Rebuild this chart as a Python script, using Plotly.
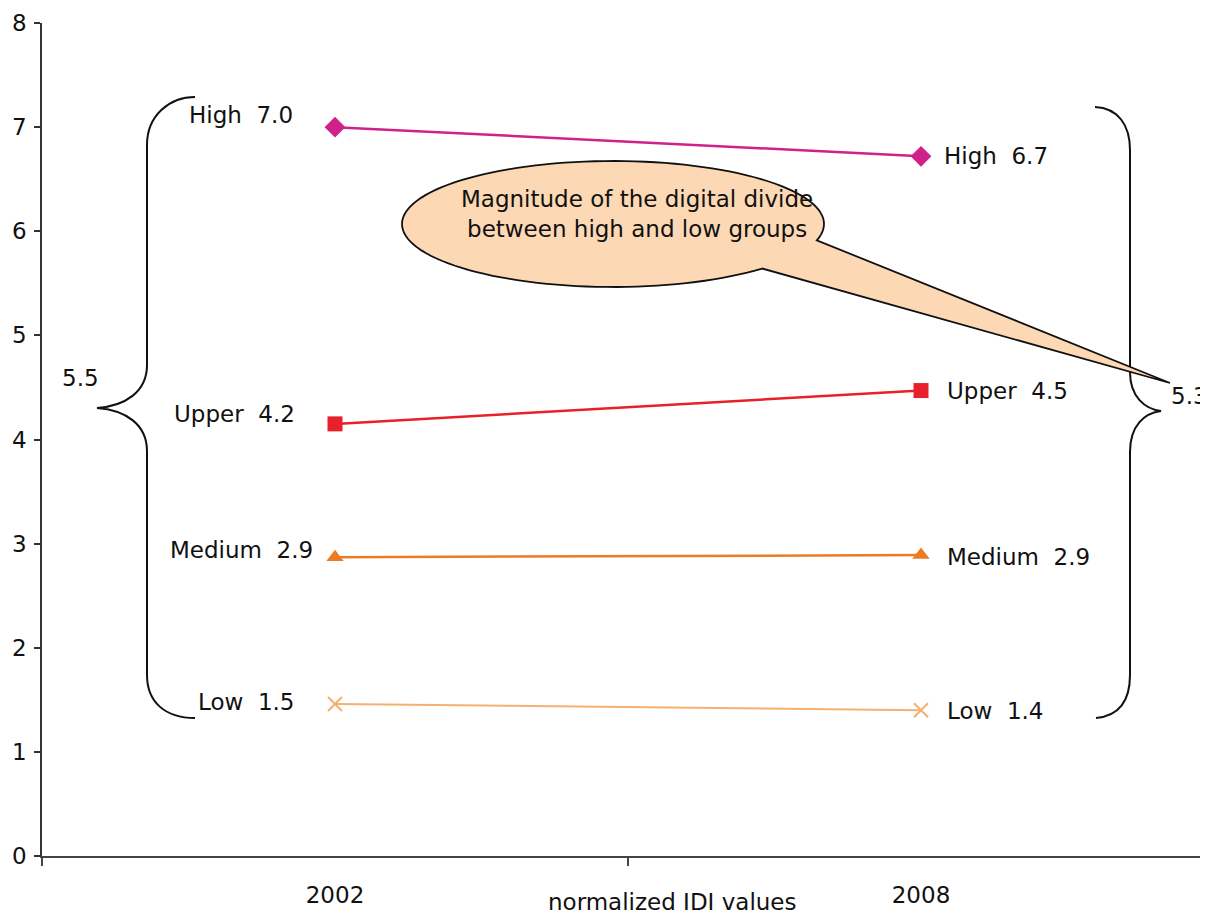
import math
import plotly.graph_objects as go

# ---------------- data ----------------
categories = ["2002", "2008"]
groups = ["High", "Upper", "Medium", "Low"]
values_2002 = [7.00, 4.15, 2.87, 1.46]
values_2008 = [6.72, 4.47, 2.89, 1.40]
labels_2002 = [7.0, 4.2, 2.9, 1.5]
labels_2008 = [6.7, 4.5, 2.9, 1.4]
y_ticks = [0, 1, 2, 3, 4, 5, 6, 7, 8]
divide_2002 = "5.5"
divide_2008 = "5.3"
x_title = "normalized IDI values"
callout_text = "Magnitude of the digital divide<br>between high and low groups"

# ---------------- style ----------------
FONT = "DejaVu Sans"
FS = 23
colors = ["#D0208A", "#E8202A", "#EE7A22", "#F5B070"]
symbols = ["diamond", "square", "triangle-up", "x-thin"]
msizes = [16, 15, 15, 14]
lwidths = [2.5, 2.5, 2.5, 2]
# label offsets (px)
left_dx = [-40, -38, -20, -38]
left_dy = [12, 10, 7, 2]
right_dx = [21, 24, 24, 24]
right_dy = [0, 0, -2, -1]

OFF = 8                          # page body margin
SW, SH = 1208, 917               # screen size
W, H = SW - OFF, SH - OFF        # figure size
PL, PT, PR, PB = 42, 23, 1208, 856   # plot box in screen px
L, T, R = PL - OFF, PT - OFF, SW - PR
B = H - (PB - OFF)
PW = PR - PL
PH = PB - PT
XU = 586.0                       # px per category
X0 = -0.5
X1 = X0 + PW / XU
YU = PH / 8.0


def X(px):
    return (px - PL) / XU + X0


def Y(py):
    return (PB - py) / YU


def path(cmds):
    out = []
    for c in cmds:
        if isinstance(c, str):
            out.append(c)
        else:
            out.append(f"{X(c[0]):.5f},{Y(c[1]):.5f}")
    return " ".join(out)


fig = go.Figure()
xs = list(range(len(categories)))
for i, g in enumerate(groups):
    fig.add_trace(go.Scatter(
        x=xs, y=[values_2002[i], values_2008[i]], mode="lines+markers",
        name=g, line=dict(color=colors[i], width=lwidths[i]),
        marker=dict(symbol=symbols[i], size=msizes[i], color=colors[i],
                    line=dict(color=colors[i], width=2 if symbols[i] == "x-thin" else 0)),
        showlegend=False, hoverinfo="skip"))

tf = dict(family=FONT, size=FS, color="#111")
annotations = []
for i, g in enumerate(groups):
    annotations.append(dict(x=0, y=values_2002[i], xref="x", yref="y",
                            text=f"{g}&nbsp;&nbsp;{labels_2002[i]:.1f}", showarrow=False,
                            xanchor="right", yanchor="middle",
                            xshift=left_dx[i], yshift=left_dy[i], font=tf))
    annotations.append(dict(x=1, y=values_2008[i], xref="x", yref="y",
                            text=f"{g}&nbsp;&nbsp;{labels_2008[i]:.1f}", showarrow=False,
                            xanchor="left", yanchor="middle",
                            xshift=right_dx[i], yshift=right_dy[i], font=tf))

annotations.append(dict(x=X(80), y=Y(378), xref="x", yref="y", text=divide_2002,
                        showarrow=False, xanchor="center", yanchor="middle", font=tf))
annotations.append(dict(x=X(1189), y=Y(396), xref="x", yref="y", text=divide_2008,
                        showarrow=False, xanchor="center", yanchor="middle", font=tf))
annotations.append(dict(x=X(637), y=Y(214), xref="x", yref="y", text=callout_text,
                        showarrow=False, xanchor="center", yanchor="middle", font=tf))
annotations.append(dict(x=(672 - PL) / PW, y=(PB - 902) / PH, xref="paper", yref="paper",
                        text=x_title, showarrow=False, xanchor="center", yanchor="middle",
                        font=tf))

shapes = []
# left brace
shapes.append(dict(type="path", xref="x", yref="y", line=dict(color="#111", width=2),
                   path=path(["M", (195, 97), "C", (170, 97), (147, 115), (147, 145),
                              "L", (147, 365), "C", (147, 392), (125, 406), (97, 408),
                              "C", (125, 410), (147, 424), (147, 451),
                              "L", (147, 675), "C", (147, 702), (165, 718), (195, 718)])))
# right brace
shapes.append(dict(type="path", xref="x", yref="y", line=dict(color="#111", width=2),
                   path=path(["M", (1095, 107), "C", (1118, 108), (1130, 125), (1130, 150),
                              "L", (1130, 372), "C", (1130, 397), (1145, 409), (1161, 411),
                              "C", (1145, 413), (1130, 425), (1130, 452),
                              "L", (1130, 675), "C", (1130, 702), (1118, 716), (1096, 718)])))
# callout ellipse with tail
cx, cy, rx, ry = 613, 224, 211, 63
t1, t2 = 15, 45
cmds = []
n = 120
for k in range(n + 1):
    th = math.radians(t2 + (360 - (t2 - t1)) * k / n)
    p = (cx + rx * math.cos(th), cy + ry * math.sin(th))
    cmds += (["M", p] if k == 0 else ["L", p])
cmds += ["L", (1170, 383), "Z"]
shapes.append(dict(type="path", xref="x", yref="y", fillcolor="#FCD8B4",
                   line=dict(color="#111", width=1.8), path=path(cmds)))

fig.update_layout(
    width=W, height=H,
    margin=dict(l=L, r=R, t=T, b=B, autoexpand=False),
    paper_bgcolor="white", plot_bgcolor="white",
    showlegend=False,
    annotations=annotations, shapes=shapes,
    xaxis=dict(range=[X0, X1], tickmode="array", tickvals=xs, ticktext=categories,
               ticks="", showgrid=False, zeroline=False, showline=True,
               linecolor="#444", linewidth=2, tickfont=tf,
               ticklabelstandoff=17,
               minor=dict(tickmode="array", tickvals=[-0.5, 0.5], ticks="outside",
                          ticklen=8, tickcolor="#444", tickwidth=1.5, showgrid=False),
               fixedrange=True),
    yaxis=dict(range=[0, 8], tickmode="array", tickvals=y_ticks,
               ticks="outside", ticklen=6, tickcolor="#333", tickwidth=1.5,
               showgrid=False, zeroline=False, showline=True,
               linecolor="#333", linewidth=1.5, tickfont=tf,
               ticklabelstandoff=3, fixedrange=True),
)

fig.write_html("out.html")
